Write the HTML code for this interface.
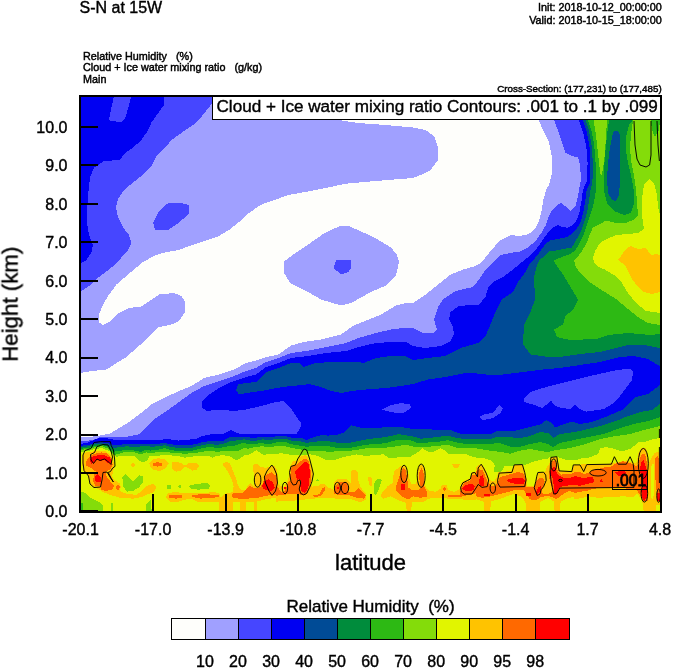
<!DOCTYPE html>
<html><head><meta charset="utf-8"><title>S-N at 15W</title>
<style>
html,body{margin:0;padding:0;background:#fff;}
body{width:674px;height:668px;position:relative;overflow:hidden;font-family:"Liberation Sans",sans-serif;color:#000;}
svg text{font-family:"Liberation Sans",sans-serif;}
</style></head><body>
<svg width="674" height="668" viewBox="0 0 674 668" style="position:absolute;left:0;top:0" shape-rendering="crispEdges">
<defs><clipPath id="pc"><rect x="80" y="96" width="580" height="415"/></clipPath></defs>
<g clip-path="url(#pc)">
<polygon fill="#A0A0FF" points="80.0,96.0 660.0,96.0 660.0,511.0 80.0,511.0"/>
<polygon fill="#FEFEFB" points="80.0,373.0 91.5,371.0 106.5,369.5 116.5,363.0 126.5,357.0 136.5,348.0 146.5,339.5 153.0,332.0 159.0,327.0 171.5,324.5 179.0,321.0 184.5,313.0 185.0,302.0 181.5,296.0 174.0,293.0 159.0,294.5 151.5,299.5 141.5,306.5 129.0,308.0 119.0,313.0 109.0,322.0 103.0,325.0 98.5,322.0 99.0,314.5 103.0,304.5 109.0,294.5 116.5,284.5 124.0,278.0 134.0,269.5 143.0,262.0 149.0,258.7 156.5,255.0 166.5,252.0 179.0,250.0 189.0,246.0 204.0,241.0 219.0,236.0 229.0,230.0 239.0,222.0 246.0,215.0 261.0,204.7 288.5,195.0 316.0,190.0 346.0,183.7 376.0,181.0 413.0,178.0 420.5,175.0 430.5,170.0 438.0,160.0 438.0,147.5 434.0,136.0 425.5,130.0 413.0,127.5 386.0,125.0 358.5,123.0 338.5,120.0 338.0,96.0 539.0,96.0 539.0,120.7 543.0,130.0 549.0,142.5 552.0,157.5 552.0,172.5 549.0,185.0 546.0,190.0 543.3,200.0 541.4,211.4 538.9,221.4 535.0,229.0 528.8,234.0 520.0,236.0 510.5,235.0 500.5,240.0 490.5,251.0 482.0,262.0 475.5,266.0 463.0,269.5 450.5,274.5 438.0,284.5 425.5,294.5 413.0,303.0 406.0,303.0 396.0,305.5 381.0,314.5 366.0,320.5 353.5,325.5 341.0,334.5 321.0,339.5 303.5,342.0 291.0,345.5 278.5,354.5 266.0,357.0 256.0,360.5 246.0,363.0 234.0,369.5 219.0,374.5 204.0,378.0 191.5,386.0 179.0,391.0 164.0,398.0 151.5,404.5 139.0,414.5 129.0,422.0 117.0,429.4 109.7,433.7 98.4,435.8 88.5,437.0 80.0,437.5"/>
<polygon fill="#A0A0FF" points="283.5,262.0 296.0,252.5 311.0,242.5 323.5,233.7 339.7,226.0 348.5,226.0 363.5,232.5 378.5,240.0 391.0,247.5 397.0,255.0 399.0,262.0 396.0,275.5 386.0,285.5 371.0,292.0 351.0,303.0 341.0,305.5 321.0,299.5 303.5,289.5 290.0,283.0 283.5,272.0"/>
<polygon fill="#4646FF" points="336.0,260.0 351.0,260.0 351.5,267.0 348.5,272.0 341.0,274.5 333.5,268.0"/>
<polygon fill="#4646FF" points="80.0,96.0 222.0,96.0 212.7,102.5 204.0,113.7 196.5,122.5 184.0,131.0 171.5,140.0 164.0,149.0 156.5,156.0 151.5,166.0 144.0,174.0 133.0,182.5 124.0,190.0 118.0,199.0 116.0,207.5 118.0,217.5 123.0,227.5 129.0,235.0 131.5,242.5 128.0,250.0 121.5,257.5 118.0,262.0 109.0,269.5 99.0,277.0 89.0,286.0 80.0,292.0"/>
<polygon fill="#4646FF" points="166.5,203.7 179.0,202.5 189.0,205.0 189.0,213.7 179.0,222.5 169.0,229.5 155.0,230.0 153.0,222.5 158.0,212.5"/>
<polygon fill="#4646FF" points="554.0,96.0 554.0,120.0 560.5,137.5 565.5,152.5 572.0,156.0 578.0,157.5 580.0,165.0 581.0,179.0 579.0,190.0 577.2,200.0 575.3,206.3 570.3,210.7 565.3,206.3 561.5,202.6 556.5,205.7 551.4,211.4 548.3,217.7 545.8,225.2 541.4,232.8 535.0,241.6 527.5,247.8 520.0,251.6 513.0,252.5 500.5,255.0 493.0,262.0 485.5,269.5 479.0,279.5 473.0,287.0 455.5,291.0 443.0,299.5 438.0,307.0 434.0,319.5 437.0,329.5 433.0,333.0 423.0,333.0 413.0,328.0 406.0,327.5 391.0,329.5 376.0,333.0 358.5,338.0 346.0,343.0 326.0,347.0 308.5,350.5 291.0,353.0 278.5,358.0 266.0,362.0 256.0,368.0 246.0,371.0 234.0,376.0 219.0,381.0 204.0,386.0 191.5,393.0 179.0,402.0 166.5,411.0 154.0,419.5 146.0,428.0 138.5,434.4 126.0,436.8 111.0,437.5 101.0,436.8 94.7,439.3 88.5,440.6 80.0,441.0 80.0,511.0 660.0,511.0 660.0,96.0"/>
<polygon fill="#0000F2" points="80.0,96.0 164.0,96.0 164.0,105.0 159.0,112.0 151.5,122.5 146.5,132.5 141.5,140.0 133.0,147.5 124.0,154.0 120.0,160.0 104.0,161.0 94.0,167.5 90.0,177.5 88.0,195.0 86.5,220.0 89.0,235.0 93.0,245.0 91.5,252.5 86.5,260.0 80.0,264.0"/>
<polygon fill="#4646FF" points="114.0,96.0 131.5,96.0 125.0,119.0 121.5,122.0 110.0,121.0 109.0,119.0 111.5,107.5"/>
<polygon fill="#0000F2" points="579.0,96.0 579.0,120.0 583.0,132.0 586.4,147.0 587.6,163.0 587.0,181.0 582.9,190.0 581.6,200.0 579.7,211.4 576.6,220.2 572.8,225.2 567.8,227.7 562.8,227.0 557.7,225.2 552.7,227.7 547.7,232.8 542.6,240.3 536.3,249.0 528.8,256.6 522.0,262.0 513.0,269.5 503.0,277.0 493.0,282.0 488.0,288.0 485.5,297.0 479.0,304.5 468.0,305.0 458.0,306.5 450.5,312.0 449.0,319.5 453.0,327.0 454.0,334.5 450.5,341.0 440.5,346.0 425.5,348.0 413.0,346.0 406.0,342.0 391.0,342.0 376.0,343.0 358.5,347.0 346.0,351.0 326.0,353.0 308.5,356.0 291.0,358.0 278.5,363.0 266.0,367.0 256.0,374.5 246.0,377.0 231.5,382.0 219.0,388.0 209.0,394.5 201.5,402.0 201.5,407.0 206.5,411.0 219.0,409.5 234.0,411.0 246.0,409.5 261.0,406.0 276.0,402.0 283.5,401.0 290.0,407.0 296.0,416.0 301.0,423.0 301.4,426.0 298.9,430.0 296.4,433.7 269.0,434.4 259.0,434.0 250.0,434.4 244.0,433.8 239.8,433.7 234.8,431.9 231.0,430.0 227.3,431.9 222.3,434.4 213.6,434.0 207.4,435.0 200.0,436.8 195.0,439.3 185.0,439.7 178.7,440.6 172.5,439.7 167.5,439.0 160.0,439.9 143.0,440.2 128.0,440.4 113.0,439.6 106.0,438.0 101.5,437.5 95.0,439.5 88.0,442.5 80.0,444.0 80.0,511.0 660.0,511.0 660.0,96.0"/>
<polygon fill="#4646FF" points="382.0,409.5 391.0,405.0 401.0,403.0 410.0,404.5 411.0,408.0 403.5,413.0 396.0,413.0 388.5,411.5"/>
<polygon fill="#4646FF" points="479.0,417.0 485.5,414.0 493.0,413.0 499.0,405.0 503.0,408.0 500.5,413.0 493.0,418.0 483.0,420.0"/>
<polygon fill="#4646FF" points="524.0,398.0 530.5,392.0 543.0,388.0 550.0,386.0 570.0,381.0 590.0,376.0 608.0,372.0 620.0,369.6 630.0,369.0 633.0,372.0 632.0,380.0 626.0,388.0 620.0,396.0 614.0,403.0 604.0,409.0 586.0,411.6 580.0,409.0 575.0,405.0 570.0,409.0 562.0,408.0 558.0,407.0 554.0,405.0 551.0,400.0 546.0,405.0 542.0,408.0 533.0,404.5 524.0,402.0"/>
<polygon fill="#004B96" points="583.0,96.0 583.0,120.0 587.0,133.0 589.6,147.0 590.4,165.0 590.0,183.0 586.6,190.0 585.4,200.0 583.5,211.4 580.4,222.7 576.6,229.0 571.6,234.0 566.5,237.2 557.7,239.0 550.2,240.3 545.2,244.0 540.1,251.6 535.0,258.0 530.0,263.0 525.5,272.0 518.0,282.0 513.0,292.0 502.0,299.5 495.5,312.0 490.5,324.5 485.5,336.0 478.0,343.0 460.5,348.0 445.5,356.0 428.0,358.0 413.0,360.0 406.0,356.5 391.0,356.0 376.0,358.0 363.5,363.0 356.0,361.5 331.0,362.0 316.0,363.0 303.5,367.0 300.0,363.0 291.0,363.0 278.5,368.0 266.0,372.0 256.0,382.0 246.0,383.0 238.0,384.5 236.0,390.0 239.0,394.5 246.0,393.0 261.0,391.0 276.0,388.0 291.0,386.0 303.5,385.0 308.5,384.0 321.0,387.0 331.0,391.0 341.0,393.0 351.0,391.0 366.0,389.5 386.0,388.0 401.0,386.0 413.0,384.0 428.0,379.5 445.5,377.0 468.0,372.5 485.5,374.5 503.0,374.5 523.0,372.0 543.0,369.5 560.0,368.0 580.0,365.0 600.0,362.0 620.0,357.0 634.0,356.0 648.0,359.0 656.0,364.0 660.0,366.0 660.0,96.0"/>
<polygon fill="#004B96" points="660.0,385.0 656.0,388.0 648.0,394.0 636.0,397.0 630.0,402.0 624.0,409.0 608.0,416.0 592.0,422.0 580.0,424.0 572.0,421.6 562.8,424.5 555.3,427.5 550.9,422.2 546.4,420.0 540.4,424.5 528.4,427.5 513.4,431.2 498.5,430.5 491.0,434.2 476.0,434.2 459.8,433.5 449.4,429.7 440.4,430.5 428.4,429.0 413.4,429.0 398.5,426.7 386.5,426.7 376.0,428.5 360.0,427.5 351.0,425.2 345.0,432.0 336.0,435.0 328.0,435.6 321.3,435.0 312.6,437.5 306.3,440.0 300.0,437.5 291.4,437.5 285.0,436.2 276.4,436.2 269.0,437.5 262.7,436.8 256.5,437.5 250.0,437.5 244.0,436.8 239.8,437.5 232.3,436.8 227.3,438.0 223.6,440.6 216.0,441.2 210.0,441.2 203.6,441.8 197.4,443.7 191.0,445.0 178.7,445.0 170.0,444.3 165.0,443.0 160.0,443.5 150.8,443.7 138.3,443.7 126.0,444.3 113.4,445.0 108.0,443.2 102.0,442.3 95.0,442.7 88.5,445.0 80.0,445.8 80.0,511.0 660.0,511.0"/>
<polygon fill="#008C3C" points="585.6,96.0 585.6,120.0 589.0,131.0 591.6,145.0 593.0,165.0 592.4,183.0 590.4,190.0 589.2,200.0 587.3,211.4 584.1,222.7 580.4,232.8 575.3,241.6 571.6,247.8 562.8,249.0 556.5,250.4 548.9,251.6 543.9,256.6 538.9,260.4 536.3,268.0 534.0,277.0 535.0,299.5 530.5,312.0 524.0,324.5 523.0,344.5 530.5,354.5 548.0,357.0 560.0,357.0 580.0,354.0 600.0,352.0 616.0,348.0 628.0,345.0 644.0,345.0 660.0,348.0 660.0,96.0"/>
<polygon fill="#008C3C" points="660.0,404.0 652.0,410.0 640.0,412.0 628.0,416.0 616.0,421.0 600.0,426.0 584.0,430.0 574.0,432.0 560.0,434.0 553.0,438.0 548.0,433.0 540.0,432.0 530.0,436.0 518.0,438.5 510.0,437.0 498.5,436.5 491.0,438.7 476.0,438.7 466.0,439.2 456.8,438.0 447.9,435.7 435.9,437.2 420.9,438.7 413.4,436.5 398.5,434.2 385.0,437.2 376.0,438.0 366.0,439.5 351.0,442.5 336.0,442.5 328.0,441.2 321.3,441.2 312.6,441.8 306.3,443.0 300.0,441.2 291.4,440.6 285.0,438.7 276.4,438.7 269.0,440.6 262.7,439.3 256.5,440.6 250.0,440.6 244.0,439.3 239.8,440.0 234.8,440.6 229.8,441.2 223.6,443.7 216.0,445.0 210.0,443.7 203.6,445.0 197.4,446.2 191.0,448.0 178.7,448.0 170.0,446.8 165.0,445.0 160.0,446.2 150.8,446.8 145.8,445.6 138.3,446.8 126.0,446.4 113.4,448.0 108.0,445.0 102.0,443.7 95.0,444.3 88.5,446.4 80.0,447.3 80.0,511.0 660.0,511.0"/>
<polygon fill="#2DB914" points="588.0,96.0 588.0,120.0 591.0,129.0 594.0,143.0 595.6,163.0 596.0,181.0 596.0,190.0 594.8,197.5 593.0,206.3 590.4,213.9 587.9,221.4 585.4,229.0 582.9,236.5 579.0,244.0 575.3,250.4 570.3,254.0 562.8,256.6 554.0,260.4 555.5,264.0 563.0,274.5 570.5,287.0 578.0,299.5 573.0,309.5 565.5,316.0 563.0,324.5 554.0,329.5 557.0,337.0 570.0,340.0 596.0,339.0 608.0,335.0 628.0,333.0 650.0,335.0 660.0,334.0 660.0,96.0"/>
<polygon fill="#008C3C" points="609.0,96.0 609.0,121.0 607.0,135.0 605.0,155.0 603.6,175.0 604.0,191.0 607.0,203.0 614.0,211.0 624.0,215.0 631.0,213.0 634.0,203.0 633.6,189.0 631.0,175.0 628.0,163.0 626.0,151.0 626.4,135.0 629.0,125.0 632.0,121.0 632.0,96.0"/>
<polygon fill="#004B96" points="613.0,133.0 610.0,147.0 608.0,163.0 607.0,179.0 608.0,193.0 612.0,200.0 616.0,201.0 619.0,195.0 620.0,181.0 619.6,163.0 620.0,147.0 620.0,135.0 618.0,130.6 615.0,130.6"/>
<polygon fill="#2DB914" points="660.0,417.0 648.0,421.0 634.0,424.0 620.0,428.0 604.0,434.0 588.0,437.0 574.0,440.0 560.0,443.0 553.0,447.0 548.0,444.0 540.0,442.0 530.0,444.0 518.0,447.5 510.0,446.5 498.5,442.5 491.0,444.0 476.0,444.0 466.0,444.0 456.8,442.5 447.9,440.2 438.9,441.7 428.4,442.5 417.9,443.2 409.0,439.5 398.5,439.5 385.0,443.2 376.0,444.0 366.0,444.7 351.0,447.7 336.0,447.7 328.0,446.2 321.3,445.6 312.6,446.2 306.3,446.8 300.0,445.6 291.4,444.3 285.0,441.8 276.4,442.5 269.0,444.3 260.2,443.0 256.5,443.7 250.0,444.3 244.0,443.0 239.8,443.7 234.8,445.6 229.8,445.6 223.6,447.4 216.0,448.0 210.0,446.8 203.6,448.0 197.4,449.3 191.0,451.2 178.7,451.2 170.0,450.0 165.0,448.0 160.0,449.3 150.8,450.6 145.8,450.0 140.8,451.8 132.0,450.0 126.0,450.0 113.4,451.8 108.0,447.0 102.0,445.0 95.0,445.8 88.5,448.0 80.0,448.8 80.0,511.0 660.0,511.0"/>
<polygon fill="#84DC0A" points="593.6,96.0 593.6,121.0 596.0,135.0 598.0,153.0 600.0,171.0 601.0,177.0 603.0,169.0 605.0,153.0 606.0,135.0 607.0,121.0 607.0,96.0"/>
<polygon fill="#84DC0A" points="633.0,96.0 633.0,121.0 631.0,135.0 630.0,147.0 631.0,161.0 634.0,175.0 636.0,189.0 637.0,203.0 638.0,215.0 634.0,219.4 626.0,223.0 616.0,223.0 606.0,220.6 598.0,225.2 592.9,227.7 590.4,232.8 587.9,240.3 585.4,245.3 581.6,251.6 577.8,256.6 574.0,260.4 575.3,265.5 579.0,271.7 588.0,281.0 600.0,289.0 616.0,299.0 628.0,309.0 638.0,317.0 648.0,323.0 660.0,325.0 660.0,96.0"/>
<polygon fill="#2DB914" points="651.0,96.0 651.0,121.0 652.0,130.0 655.0,137.0 659.0,130.0 660.0,121.0 660.0,96.0"/>
<polygon fill="#84DC0A" points="660.0,426.0 644.0,430.0 630.0,434.0 616.0,436.0 600.0,439.0 586.0,444.0 570.0,448.0 556.0,450.0 548.0,452.0 540.0,451.0 530.0,449.0 518.0,451.0 510.0,453.7 503.0,452.2 490.0,450.7 476.0,448.4 466.0,448.4 456.8,447.7 447.9,444.7 435.9,446.2 423.9,447.0 414.9,447.0 406.0,444.7 397.0,446.2 385.0,447.7 376.0,448.0 366.0,448.4 351.0,450.7 336.0,451.4 328.0,451.8 321.3,450.6 312.6,450.6 306.3,450.6 300.0,449.3 291.4,448.0 285.0,446.2 276.4,446.2 269.0,447.4 262.7,446.2 256.5,446.8 247.7,448.7 244.0,448.0 242.3,448.7 237.3,451.2 229.8,450.6 223.6,451.2 216.0,451.8 210.0,450.6 202.4,451.8 195.0,453.0 185.0,453.7 172.5,453.0 167.5,451.8 160.0,451.8 150.8,453.0 145.8,452.4 140.8,454.3 133.4,451.8 126.0,451.8 114.6,455.0 109.0,449.0 102.0,446.2 95.0,447.2 88.5,449.0 84.7,449.3 80.0,450.6 80.0,511.0 660.0,511.0"/>
<polygon fill="#E1F500" points="644.0,229.0 642.0,215.0 642.0,199.0 644.0,185.0 649.0,179.0 654.0,183.0 657.0,195.0 658.0,207.0 660.0,215.0 660.0,313.0 646.0,311.0 636.0,303.0 628.0,293.0 622.0,283.0 614.0,275.0 604.0,269.2 598.0,266.7 594.2,263.0 592.9,258.0 595.5,250.4 599.2,244.0 604.0,240.3 616.0,235.0 638.0,233.0"/>
<polygon fill="#E1F500" points="660.0,438.0 651.8,439.5 645.9,441.7 638.4,442.5 630.9,448.4 621.9,451.4 612.9,448.4 605.4,447.0 600.2,448.4 598.0,454.0 588.0,458.0 581.5,458.2 576.0,460.4 565.8,459.7 558.3,457.4 549.4,457.4 547.9,458.9 540.4,459.7 532.9,461.9 525.4,464.9 511.9,465.7 504.4,466.4 501.4,471.6 494.0,471.6 494.7,464.9 491.0,460.4 483.5,458.2 476.0,457.6 470.3,456.0 465.8,453.7 447.9,453.7 444.9,450.0 440.4,448.4 432.9,452.2 426.9,451.4 422.4,448.4 417.9,452.2 410.4,456.7 398.5,457.4 389.5,458.2 383.5,454.4 376.0,454.8 366.0,456.0 356.8,454.4 344.9,456.7 335.9,459.7 328.0,460.0 323.8,459.3 318.8,456.2 310.0,454.3 300.0,455.5 293.9,455.0 286.4,454.3 281.4,453.0 276.4,454.3 269.0,453.7 264.0,455.0 260.2,453.0 256.5,450.0 250.0,454.3 244.0,455.5 239.8,458.7 236.7,460.5 233.6,458.7 229.8,456.2 222.3,455.0 216.0,456.2 212.4,457.7 207.4,455.5 197.4,456.2 188.7,456.8 185.0,457.7 178.7,456.2 167.5,455.0 160.0,455.5 155.8,455.5 149.6,456.2 147.0,460.5 143.3,462.4 139.6,461.2 134.6,456.2 126.0,455.5 121.0,456.2 116.0,456.8 110.0,451.5 102.0,448.0 95.0,449.0 88.5,450.8 84.0,451.5 80.0,452.5 80.0,511.0 660.0,511.0"/>
<polygon fill="#FFC300" points="618.0,260.0 626.0,249.0 631.0,246.0 638.0,249.0 646.0,248.0 651.0,255.0 656.0,254.0 660.0,255.0 660.0,292.0 652.0,294.0 644.0,292.0 638.0,287.0 632.0,279.0 626.0,267.0 622.0,263.0"/>
<polygon fill="#84DC0A" points="122.4,477.0 125.4,474.0 133.0,481.4 139.0,475.4 143.4,476.0 143.4,481.4 139.0,487.4 133.0,491.0 127.0,491.6 123.0,486.0"/>
<polygon fill="#84DC0A" points="167.0,485.0 170.5,485.0 170.5,489.0 167.0,489.0"/>
<polygon fill="#84DC0A" points="81.0,492.0 85.0,492.6 91.0,498.0 98.5,501.6 103.0,505.3 103.0,511.0 81.0,511.0"/>
<polygon fill="#2DB914" points="81.0,503.0 82.5,503.0 82.5,511.0 81.0,511.0"/>
<polygon fill="#84DC0A" points="111.0,503.0 112.7,503.0 112.7,511.0 111.0,511.0"/>
<polygon fill="#84DC0A" points="145.6,511.0 146.0,505.0 151.0,499.0 151.6,511.0"/>
<polygon fill="#84DC0A" points="188.7,486.0 195.5,484.0 207.4,483.0 210.0,486.0 209.0,489.0 198.5,489.6 191.0,489.0"/>
<polygon fill="#84DC0A" points="315.4,481.0 317.5,479.2 319.6,481.0"/>
<polygon fill="#84DC0A" points="178.0,486.6 179.7,484.5 181.5,486.6 179.7,488.7"/>
<polygon fill="#84DC0A" points="376.0,480.0 379.0,478.4 382.0,480.0 379.0,489.0 376.0,495.0 374.0,493.4 374.0,484.4"/>
<polygon fill="#FFC300" points="82.5,455.0 85.0,452.8 88.5,452.0 92.0,451.6 96.0,451.0 102.0,450.6 106.0,451.5 109.5,454.0 112.7,458.0 114.0,465.0 113.4,471.0 112.0,475.4 114.0,480.0 119.4,483.0 121.0,487.4 119.4,491.0 125.4,493.4 136.0,495.0 140.4,492.0 146.4,486.0 154.0,483.6 156.0,487.4 154.0,492.0 148.0,494.0 142.0,497.0 133.0,498.6 121.0,498.0 110.4,495.0 103.0,492.0 98.5,489.0 92.5,487.4 89.5,483.0 88.0,475.4 83.5,471.0 82.0,463.4"/>
<polygon fill="#FFC300" points="149.4,463.4 152.4,459.7 158.3,458.2 165.8,459.7 168.8,463.4 165.8,468.0 159.8,471.0 153.8,470.0 150.0,467.0"/>
<polygon fill="#FFC300" points="130.5,465.0 132.9,462.7 135.3,465.0 132.9,467.3"/>
<polygon fill="#FFC300" points="172.0,462.0 176.0,461.5 182.0,463.4 185.0,465.7 188.0,463.4 197.0,463.4 199.0,465.7 197.0,469.4 192.5,470.6 188.0,468.0 185.0,466.5 180.5,471.0 176.0,471.6 172.0,469.0"/>
<polygon fill="#FFC300" points="166.0,497.0 168.0,493.0 176.0,492.0 183.5,493.4 191.0,493.4 201.4,493.4 213.4,492.0 219.4,493.4 221.0,498.0 224.0,494.0 233.0,492.0 233.0,511.0 218.7,511.0 218.7,502.3 206.0,501.6 197.0,501.6 191.7,498.6 183.5,500.0 176.0,502.3 170.0,502.0"/>
<polygon fill="#FFC300" points="222.4,464.2 226.1,461.9 229.9,463.4 232.9,470.9 235.9,478.4 238.1,485.9 241.9,490.4 245.6,489.6 247.9,485.1 250.9,482.9 253.8,485.9 255.3,482.9 253.8,476.9 253.1,464.9 256.8,463.4 259.8,466.4 265.8,467.9 270.3,466.4 274.0,465.5 277.0,470.0 278.0,478.0 278.0,490.0 276.0,497.8 265.8,499.3 256.8,501.6 256.8,511.0 253.8,511.0 253.8,502.3 245.6,502.3 245.6,511.0 240.4,511.0 240.4,502.3 232.9,501.6 232.9,494.0 233.6,485.9 231.4,478.4 227.6,470.9 223.9,466.4"/>
<polygon fill="#FFC300" points="276.0,480.9 278.0,484.0 280.2,485.9 284.0,487.0 287.0,482.0 288.6,477.5 288.7,471.0 290.2,466.6 292.8,461.6 297.0,460.8 299.5,457.4 302.8,455.7 306.2,455.3 308.3,458.2 310.4,463.3 312.0,469.1 312.9,473.3 312.5,479.2 311.2,484.2 312.0,486.6 318.0,485.9 321.7,483.6 324.7,484.4 327.7,487.4 333.6,489.6 334.0,482.0 338.0,479.0 347.0,479.0 350.5,483.0 351.0,470.9 353.8,469.4 357.6,471.6 358.3,479.9 360.6,487.4 365.8,493.4 366.6,499.3 360.6,502.3 351.6,499.3 336.6,498.6 321.7,497.8 306.7,499.3 291.7,500.8 276.0,501.6"/>
<polygon fill="#FFC300" points="368.0,477.6 370.5,476.5 372.0,479.0 371.5,486.0 369.0,485.0"/>
<polygon fill="#FFC300" points="380.5,496.3 382.7,491.9 388.0,485.9 392.5,482.9 394.0,471.6 400.0,466.4 404.4,465.7 407.4,469.4 409.7,479.9 411.9,484.4 415.7,484.4 417.2,479.9 417.2,470.9 420.2,464.9 423.2,465.7 425.4,472.4 425.4,485.9 428.4,490.4 435.9,491.9 440.4,488.9 441.9,485.1 446.4,485.1 447.9,489.6 453.8,491.9 459.8,488.9 461.3,482.9 465.8,479.9 470.3,478.4 471.8,472.4 476.0,472.4 476.0,500.0 465.8,500.0 456.8,498.6 447.9,498.6 438.9,497.8 428.4,498.6 423.9,501.6 411.9,502.3 411.2,511.0 406.7,511.0 405.9,503.0 400.0,500.8 391.0,496.3 383.5,498.6"/>
<polygon fill="#FFC300" points="452.3,464.5 455.0,463.4 459.8,464.5 458.5,467.5 456.0,468.7 453.5,467.0"/>
<polygon fill="#FFC300" points="476.0,467.9 479.0,464.9 482.7,464.9 486.5,472.4 489.5,479.9 494.0,481.4 497.0,476.9 498.5,472.4 511.9,470.9 514.2,464.9 522.4,464.9 525.4,472.4 526.9,479.9 526.9,485.9 534.4,485.9 535.9,479.9 538.9,472.4 544.9,472.4 546.4,467.9 549.4,463.4 550.9,457.4 556.8,457.4 559.1,464.9 559.8,470.9 571.8,470.9 573.3,464.9 576.0,464.2 576.0,497.0 568.8,497.8 560.6,501.6 559.8,511.0 554.6,511.0 553.8,501.6 547.9,497.8 540.4,501.6 539.6,511.0 526.1,511.0 525.4,501.6 520.9,496.3 513.4,494.0 502.9,497.8 491.0,501.6 490.2,511.0 484.2,511.0 483.5,501.6 476.0,499.3"/>
<polygon fill="#FFC300" points="574.0,464.9 586.0,464.2 599.4,464.2 611.4,463.4 619.0,461.9 626.4,460.4 633.9,463.4 636.9,461.9 638.4,452.9 641.4,448.4 645.9,448.4 648.1,454.4 648.9,463.4 651.8,457.4 654.8,452.9 657.8,452.2 660.0,452.9 660.0,511.0 656.0,511.0 655.5,503.0 643.6,511.0 642.9,503.8 640.6,497.8 636.9,493.4 633.9,497.0 623.4,496.3 611.4,497.0 598.0,497.8 589.0,496.3 583.0,497.8 574.0,499.3"/>
<polygon fill="#FFC300" points="643.6,511.0 643.6,503.0 655.5,503.0 655.5,511.0"/>
<polygon fill="#E1F500" points="655.5,505.0 660.0,505.0 660.0,511.0 655.5,511.0"/>
<polygon fill="#E1F500" points="651.5,466.0 653.3,462.0 654.3,470.0 654.3,490.0 653.0,500.0 651.0,497.0 650.5,480.0"/>
<polygon fill="#FF6900" points="85.7,463.4 88.0,458.0 92.5,454.5 97.0,453.0 102.0,452.4 107.0,453.5 111.5,458.0 112.7,465.0 110.4,469.4 106.0,471.6 106.7,477.0 110.4,481.4 114.0,486.0 112.0,489.6 106.0,491.0 101.4,489.6 100.0,486.0 95.5,486.0 93.0,481.4 94.0,475.4 96.0,471.6 91.0,468.0 86.5,465.7"/>
<polygon fill="#FF6900" points="115.5,487.4 118.0,484.6 120.5,487.4 118.0,490.2"/>
<polygon fill="#FF6900" points="152.4,464.0 156.8,462.0 162.0,463.4 162.0,465.7 157.6,466.7 153.8,466.0"/>
<polygon fill="#FF6900" points="169.0,494.5 176.0,494.5 182.0,495.5 182.0,498.0 176.0,498.6 169.0,498.0"/>
<polygon fill="#FF6900" points="191.7,495.6 201.4,494.0 219.4,495.0 219.4,497.0 210.4,498.0 200.0,498.6 192.5,497.0"/>
<polygon fill="#FF6900" points="231.4,495.0 234.4,492.6 242.0,493.4 246.4,489.0 249.4,486.0 254.0,488.0 260.0,487.4 263.0,483.0 264.3,477.0 267.3,474.0 271.8,472.4 275.5,475.4 277.0,480.0 277.0,490.0 276.0,495.0 266.0,495.6 257.0,498.0 248.0,498.6 239.0,498.6 233.0,498.0"/>
<polygon fill="#FF6900" points="276.0,484.2 280.2,491.0 284.0,492.5 286.5,487.0 288.6,481.7 291.1,480.9 290.2,475.9 291.1,471.7 291.1,468.3 292.8,465.8 297.0,465.0 300.3,461.6 303.7,459.1 305.8,458.7 308.3,460.8 309.5,464.1 310.4,469.1 311.2,477.5 310.4,484.2 308.7,489.3 307.0,494.3 302.8,495.1 300.3,494.5 296.0,494.3 288.6,494.3 280.2,495.0 276.0,496.0"/>
<polygon fill="#FF6900" points="312.9,495.1 319.6,494.3 322.1,488.4 324.6,487.2 325.5,489.3 322.9,493.5 319.6,496.4 313.7,496.8"/>
<polygon fill="#FF6900" points="333.6,493.4 335.0,486.0 339.0,482.0 346.4,482.0 349.4,487.4 348.0,492.0 354.0,492.0 358.3,488.0 361.3,491.0 365.8,495.0 364.3,498.6 357.0,498.0 348.0,495.0 339.0,495.0"/>
<polygon fill="#FF6900" points="395.5,487.4 397.7,481.4 400.7,472.4 403.0,467.9 405.9,470.9 407.4,479.9 408.2,487.4 411.9,490.4 417.9,490.4 420.9,488.1 419.4,479.9 419.4,472.4 421.7,467.9 423.9,473.9 423.9,485.9 426.9,491.9 427.6,496.3 420.9,497.8 413.4,496.3 408.2,499.3 403.0,497.0 398.5,493.4 395.5,490.4"/>
<polygon fill="#FF6900" points="443.0,489.0 444.5,487.4 446.0,489.0 444.5,491.5"/>
<polygon fill="#FF6900" points="447.9,494.9 459.8,494.9 461.3,487.4 464.3,482.9 470.3,480.6 471.8,475.4 476.0,474.6 476.0,493.4 465.8,495.6 459.8,497.0 447.9,497.0"/>
<polygon fill="#FF6900" points="476.0,471.6 479.0,469.4 482.7,470.1 485.0,475.4 488.0,482.9 491.0,485.9 495.5,485.9 498.5,481.4 500.0,476.9 511.9,473.9 517.9,471.6 523.9,473.9 526.1,481.4 526.1,486.6 534.4,487.4 536.3,481.4 539.4,478.3 543.1,478.3 544.7,481.4 543.6,486.7 541.5,490.9 542.6,493.5 546.8,494.0 551.0,493.0 552.5,489.8 551.0,484.6 549.4,478.3 548.9,473.1 550.4,467.8 552.5,461.5 554.6,460.0 556.2,462.6 556.7,467.8 558.8,472.5 561.4,474.6 571.9,473.6 576.1,471.5 580.3,472.0 584.5,474.1 588.7,472.5 592.9,469.9 600.0,468.9 600.0,488.2 592.9,488.8 588.7,490.3 580.3,491.9 575.1,493.0 569.8,490.9 564.6,493.0 560.4,496.1 556.2,499.3 551.0,496.6 545.7,496.1 540.5,497.2 536.3,500.3 530.0,499.3 526.9,494.5 523.9,490.4 513.4,490.4 502.9,493.4 491.0,496.3 482.0,497.8 476.0,496.3"/>
<polygon fill="#FF6900" points="600.0,468.9 601.0,467.9 611.4,466.4 615.9,463.4 623.4,461.2 630.9,463.4 636.9,466.4 639.9,458.9 642.1,453.7 645.1,454.4 646.6,461.9 647.4,469.4 648.4,472.0 648.4,498.0 647.4,501.6 642.9,500.8 639.9,494.9 636.9,490.4 623.4,488.1 611.4,487.4 601.0,488.1 600.0,488.2"/>
<polygon fill="#FF6900" points="655.3,458.0 657.5,455.5 659.0,458.9 660.0,464.9 660.0,497.8 657.5,496.3 656.5,490.4 655.5,480.0 655.0,470.0"/>
<polygon fill="#FF0000" points="90.2,460.0 91.7,457.0 97.0,455.4 104.4,455.2 109.7,457.5 112.0,461.0 111.0,464.0 107.4,462.7 104.4,459.7 100.0,461.0 97.0,459.7 94.0,462.7 91.0,464.0"/>
<polygon fill="#FF0000" points="94.7,477.0 97.7,474.0 100.7,477.6 101.4,481.4 97.0,482.0 94.7,480.0"/>
<polygon fill="#FF0000" points="262.0,486.0 264.3,481.4 268.8,479.0 273.3,483.0 274.8,487.4 271.8,491.0 267.3,490.4 263.6,489.0"/>
<polygon fill="#FF0000" points="295.3,470.8 301.1,465.8 305.3,461.6 308.7,464.1 309.5,469.1 309.5,477.5 309.1,484.2 307.0,491.0 304.5,492.6 301.1,491.0 300.3,485.9 301.1,480.9 298.6,479.2 297.0,480.0 295.7,475.9"/>
<polygon fill="#FF0000" points="336.5,488.0 338.0,486.5 339.5,488.0 338.0,489.5"/>
<polygon fill="#FF0000" points="283.5,488.0 285.0,486.0 286.5,488.0 285.0,490.0"/>
<polygon fill="#FF0000" points="401.4,483.6 405.2,483.6 405.2,490.4 401.4,490.4"/>
<polygon fill="#FF0000" points="479.0,480.0 480.5,476.0 482.5,475.4 484.2,480.0 483.5,486.0 479.7,486.0"/>
<polygon fill="#FF0000" points="506.0,480.0 514.9,477.6 522.4,477.6 525.4,480.6 523.9,483.6 514.9,483.6 508.2,482.1"/>
<polygon fill="#FF0000" points="484.0,494.0 490.0,494.0 490.0,496.4 484.0,496.4"/>
<polygon fill="#FF0000" points="526.0,493.4 530.6,493.4 530.6,496.4 526.0,496.4"/>
<polygon fill="#FF0000" points="536.0,492.0 538.0,487.5 541.0,485.5 541.5,488.0 539.5,492.0 537.5,495.0"/>
<polygon fill="#FF0000" points="550.4,469.9 552.5,467.8 554.1,466.5 555.7,468.0 556.2,471.0 558.3,475.1 564.6,478.3 569.8,477.8 575.1,476.2 580.3,477.2 584.5,478.3 588.7,476.7 592.9,477.2 594.4,480.4 592.9,482.5 588.7,483.5 584.5,484.6 580.3,485.6 569.8,485.1 564.6,486.2 560.4,486.7 558.3,489.8 557.2,494.0 555.1,495.1 553.6,491.9 553.6,484.6 552.5,478.3 550.4,474.1"/>
<polygon fill="#FF0000" points="462.0,488.9 465.8,485.1 471.8,483.6 474.8,485.9 473.3,490.4 465.8,491.0"/>
<polygon fill="#FF0000" points="599.5,481.5 601.0,478.5 602.5,481.5"/>
<polygon fill="#FF0000" points="614.4,472.4 623.4,470.0 626.4,472.4 623.4,476.9 617.4,475.4"/>
<polygon fill="#FF0000" points="639.9,469.4 641.4,461.9 643.6,460.4 645.1,464.9 647.4,470.9 648.1,479.9 648.1,490.4 646.6,497.8 644.4,500.8 642.1,497.8 641.4,490.4 642.1,479.9 640.6,473.9"/>
<polygon fill="#FF0000" points="657.0,493.4 660.0,493.4 660.0,500.8 657.0,500.8"/>
<g fill="none" stroke="#000" stroke-width="0.95" shape-rendering="auto">
<polyline points="634.0,121.0 635.0,145.0 637.0,159.0 640.0,165.0 646.0,167.0 649.6,165.0 651.0,155.0 651.0,121.0"/>
<polyline points="657.0,121.0 658.0,145.0 659.4,161.0"/>
<polygon points="83.0,455.0 85.0,450.5 91.0,448.5 94.0,442.5 100.7,441.7 110.4,441.7 111.2,445.5 113.4,450.0 114.6,459.0 115.0,466.4 112.7,468.0 110.4,471.6 108.2,472.4 111.2,478.4 113.4,482.0 110.0,477.0 107.0,472.0 103.0,472.5 102.0,480.0 100.5,487.0 94.0,487.5 90.0,484.0 88.5,476.0 84.0,470.5 83.0,463.0"/>
<polygon points="91.0,460.0 90.5,454.5 94.5,452.5 97.0,446.5 103.0,444.5 108.0,445.0 111.0,451.0 112.5,457.0 111.0,464.5 107.5,461.0 104.5,459.0 100.0,460.5 97.0,459.0 93.5,463.5"/>
<ellipse cx="257.6" cy="480.0" rx="3.3" ry="7.2"/>
<polygon points="271.8,465.0 274.0,468.0 276.5,474.0 277.5,483.0 275.5,491.0 272.0,495.5 269.0,491.0 265.5,483.0 264.3,477.0 267.0,471.0"/>
<polygon points="304.4,449.2 306.7,450.0 309.7,459.0 312.0,468.0 313.4,474.0 312.0,481.4 309.7,487.4 306.7,493.4 303.7,494.9 300.7,493.4 299.2,489.0 300.7,483.0 300.0,480.0 297.7,480.6 296.2,484.4 293.2,485.0 291.0,481.4 290.2,477.0 289.5,472.4 291.0,466.4 295.5,465.0 297.7,459.0 300.7,454.4 303.0,450.0"/>
<ellipse cx="285.0" cy="488.0" rx="2.7" ry="5.7"/>
<ellipse cx="337.4" cy="488.0" rx="3.0" ry="5.7"/>
<ellipse cx="345.0" cy="488.0" rx="3.7" ry="5.7"/>
<ellipse cx="404.1" cy="473.9" rx="3.3" ry="8.7"/>
<ellipse cx="421.2" cy="475.7" rx="4.0" ry="11.7"/>
<polygon points="460.6,487.4 462.8,482.9 467.3,480.6 470.3,479.1 471.8,473.1 474.8,472.4 477.5,476.9 478.2,467.9 481.2,464.2 483.5,467.9 486.5,473.9 488.7,479.9 487.2,486.6 482.0,487.4 478.2,484.4 476.0,488.0 472.0,494.0 464.3,494.1 461.3,491.9"/>
<ellipse cx="492.8" cy="488.1" rx="2.7" ry="5.2"/>
<polygon points="497.7,479.9 499.2,473.1 511.9,472.4 514.2,464.9 522.4,464.6 524.7,472.4 526.1,479.9 524.7,486.6 500.0,487.1 497.7,482.9"/>
<polygon points="537.9,472.5 543.6,472.2 545.7,475.1 546.2,480.4 543.6,486.7 541.0,489.8 540.0,494.0 537.3,495.6 535.8,491.9 534.2,487.7 535.8,481.4 536.8,476.2"/>
<polygon points="550.1,470.9 550.9,457.4 556.8,456.7 559.1,470.9 571.8,471.6 573.3,464.9 580.0,464.9 583.7,471.6 586.7,464.6 611.4,464.2 614.4,456.7 618.2,464.2 626.4,464.2 630.1,456.7 633.1,463.4 634.0,471.0 634.0,487.4 559.8,488.1 556.8,493.4 553.8,494.1 552.3,487.4 550.9,479.9"/>
<ellipse cx="553.8" cy="464.9" rx="2.7" ry="6.0"/>
<ellipse cx="598.0" cy="472.7" rx="8.2" ry="3.3"/>
<ellipse cx="560.4" cy="480.4" rx="1.9" ry="1.0"/>
<ellipse cx="643.3" cy="463.4" rx="5.0" ry="15.0"/>
<ellipse cx="644.4" cy="493.4" rx="3.3" ry="8.7"/>
<ellipse cx="658.6" cy="495.6" rx="1.8" ry="6.7"/>
<polyline points="659.4,429.0 659.4,438.0"/>
<polyline points="659.4,447.0 659.4,483.0"/>
</g>
</g>
<rect x="612.5" y="470.5" width="35" height="19" fill="none" stroke="#000" stroke-width="1"/>
<rect x="212.5" y="96.5" width="448" height="23" fill="#fff" stroke="#000" stroke-width="1"/>
<rect x="80" y="510" width="18" height="2" fill="#000"/>
<rect x="80" y="472" width="18" height="2" fill="#000"/>
<rect x="80" y="434" width="18" height="2" fill="#000"/>
<rect x="80" y="395" width="18" height="2" fill="#000"/>
<rect x="80" y="357" width="18" height="2" fill="#000"/>
<rect x="80" y="318" width="18" height="2" fill="#000"/>
<rect x="80" y="280" width="18" height="2" fill="#000"/>
<rect x="80" y="241" width="18" height="2" fill="#000"/>
<rect x="80" y="203" width="18" height="2" fill="#000"/>
<rect x="80" y="164" width="18" height="2" fill="#000"/>
<rect x="80" y="126" width="18" height="2" fill="#000"/>
<rect x="152" y="494" width="2" height="17" fill="#000"/>
<rect x="225" y="494" width="2" height="17" fill="#000"/>
<rect x="297" y="494" width="2" height="17" fill="#000"/>
<rect x="370" y="494" width="2" height="17" fill="#000"/>
<rect x="442" y="494" width="2" height="17" fill="#000"/>
<rect x="515" y="494" width="2" height="17" fill="#000"/>
<rect x="587" y="494" width="2" height="17" fill="#000"/>
<rect x="79" y="95" width="2" height="418" fill="#000"/>
<rect x="660" y="95" width="2" height="418" fill="#000"/>
<rect x="79" y="95" width="583" height="2" fill="#000"/>
<rect x="79" y="511" width="583" height="2" fill="#000"/>
<rect x="171.5" y="618.5" width="34.0" height="21" fill="#FEFEFB" stroke="#000" stroke-width="1"/>
<rect x="205.5" y="618.5" width="33.0" height="21" fill="#A0A0FF" stroke="#000" stroke-width="1"/>
<rect x="238.5" y="618.5" width="33.0" height="21" fill="#4646FF" stroke="#000" stroke-width="1"/>
<rect x="271.6" y="618.5" width="33.0" height="21" fill="#0000F2" stroke="#000" stroke-width="1"/>
<rect x="304.6" y="618.5" width="33.0" height="21" fill="#004B96" stroke="#000" stroke-width="1"/>
<rect x="337.6" y="618.5" width="33.0" height="21" fill="#008C3C" stroke="#000" stroke-width="1"/>
<rect x="370.6" y="618.5" width="33.0" height="21" fill="#2DB914" stroke="#000" stroke-width="1"/>
<rect x="403.6" y="618.5" width="33.0" height="21" fill="#84DC0A" stroke="#000" stroke-width="1"/>
<rect x="436.7" y="618.5" width="33.0" height="21" fill="#E1F500" stroke="#000" stroke-width="1"/>
<rect x="469.7" y="618.5" width="33.0" height="21" fill="#FFC300" stroke="#000" stroke-width="1"/>
<rect x="502.7" y="618.5" width="33.0" height="21" fill="#FF6900" stroke="#000" stroke-width="1"/>
<rect x="535.7" y="618.5" width="33.8" height="21" fill="#FF0000" stroke="#000" stroke-width="1"/>
<g font-family="Liberation Sans, sans-serif" fill="#000" stroke="#000" stroke-width="0.4" shape-rendering="auto" style="filter:grayscale(1)">
<text x="79.5" y="12.5" font-size="16.0" text-anchor="start" >S-N at 15W</text>
<text x="661.7" y="11.2" font-size="10.8" text-anchor="end" stroke="#000" stroke-width="0.45">Init: 2018-10-12_00:00:00</text>
<text x="661.7" y="23.5" font-size="10.8" text-anchor="end" stroke="#000" stroke-width="0.45">Valid: 2018-10-15_18:00:00</text>
<text x="83.0" y="59.5" font-size="10.8" text-anchor="start" stroke="#000" stroke-width="0.45">Relative Humidity&#160;&#160;&#160;(%)</text>
<text x="83.0" y="71.2" font-size="10.8" text-anchor="start" stroke="#000" stroke-width="0.45">Cloud + Ice water mixing ratio&#160;&#160;&#160;(g/kg)</text>
<text x="83.0" y="83.3" font-size="10.8" text-anchor="start" stroke="#000" stroke-width="0.45">Main</text>
<text x="661.7" y="91.6" font-size="9.8" text-anchor="end" stroke="#000" stroke-width="0.45">Cross-Section: (177,231) to (177,485)</text>
<text x="216.5" y="112.2" font-size="17.1" text-anchor="start" >Cloud + Ice water mixing ratio Contours: .001 to .1 by .099</text>
<text x="67.5" y="517.2" font-size="16.0" text-anchor="end" >0.0</text>
<text x="67.5" y="478.8" font-size="16.0" text-anchor="end" >1.0</text>
<text x="67.5" y="440.3" font-size="16.0" text-anchor="end" >2.0</text>
<text x="67.5" y="401.8" font-size="16.0" text-anchor="end" >3.0</text>
<text x="67.5" y="363.4" font-size="16.0" text-anchor="end" >4.0</text>
<text x="67.5" y="324.9" font-size="16.0" text-anchor="end" >5.0</text>
<text x="67.5" y="286.5" font-size="16.0" text-anchor="end" >6.0</text>
<text x="67.5" y="248.0" font-size="16.0" text-anchor="end" >7.0</text>
<text x="67.5" y="209.6" font-size="16.0" text-anchor="end" >8.0</text>
<text x="67.5" y="171.1" font-size="16.0" text-anchor="end" >9.0</text>
<text x="67.5" y="132.7" font-size="16.0" text-anchor="end" >10.0</text>
<text x="80.6" y="535.3" font-size="16.0" text-anchor="middle" >-20.1</text>
<text x="153.1" y="535.3" font-size="16.0" text-anchor="middle" >-17.0</text>
<text x="225.6" y="535.3" font-size="16.0" text-anchor="middle" >-13.9</text>
<text x="298.1" y="535.3" font-size="16.0" text-anchor="middle" >-10.8</text>
<text x="370.6" y="535.3" font-size="16.0" text-anchor="middle" >-7.7</text>
<text x="443.1" y="535.3" font-size="16.0" text-anchor="middle" >-4.5</text>
<text x="515.6" y="535.3" font-size="16.0" text-anchor="middle" >-1.4</text>
<text x="587.5" y="535.3" font-size="16.0" text-anchor="middle" >1.7</text>
<text x="660.0" y="535.3" font-size="16.0" text-anchor="middle" >4.8</text>
<text x="370.5" y="569.6" font-size="22.0" text-anchor="middle" >latitude</text>
<text x="370.5" y="612.3" font-size="17.0" text-anchor="middle" >Relative Humidity&#160;&#160;(%)</text>
<text x="205.0" y="667.3" font-size="16.0" text-anchor="middle" >10</text>
<text x="238.0" y="667.3" font-size="16.0" text-anchor="middle" >20</text>
<text x="271.1" y="667.3" font-size="16.0" text-anchor="middle" >30</text>
<text x="304.1" y="667.3" font-size="16.0" text-anchor="middle" >40</text>
<text x="337.1" y="667.3" font-size="16.0" text-anchor="middle" >50</text>
<text x="370.1" y="667.3" font-size="16.0" text-anchor="middle" >60</text>
<text x="403.1" y="667.3" font-size="16.0" text-anchor="middle" >70</text>
<text x="436.2" y="667.3" font-size="16.0" text-anchor="middle" >80</text>
<text x="469.2" y="667.3" font-size="16.0" text-anchor="middle" >90</text>
<text x="502.2" y="667.3" font-size="16.0" text-anchor="middle" >95</text>
<text x="535.2" y="667.3" font-size="16.0" text-anchor="middle" >98</text>
<text x="0" y="0" font-size="14.5" text-anchor="middle" stroke="#000" stroke-width="0.7" transform="translate(631,486.3) scale(1.08,1.2)">.001</text>
<text x="0" y="0" font-size="22.3" text-anchor="middle" transform="translate(17.6,304.3) rotate(-90)">Height (km)</text>
</g>
</svg>
</body></html>
